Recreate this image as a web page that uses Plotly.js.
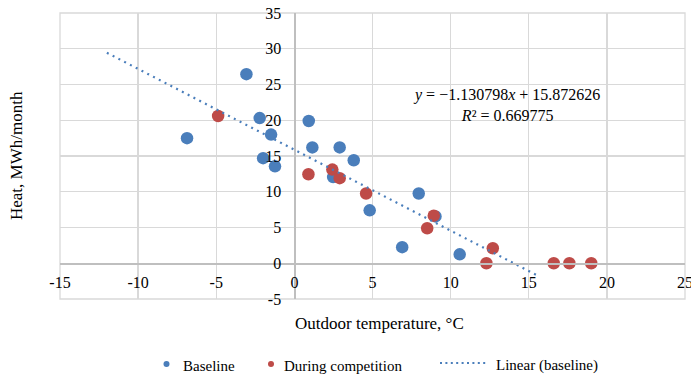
<!DOCTYPE html>
<html>
<head>
<meta charset="utf-8">
<script src="https://cdn.plot.ly/plotly-3.0.1.min.js"></script>
<style>html,body{margin:0;padding:0;background:#fff;}#chart{width:691px;height:375px;}</style>
</head>
<body>
<div id="chart"></div>
<script>
// Baseline period (blue)
const baselineTemp = [-6.87, -3.07, -2.22, -1.49, -2.0, -1.24, 0.92, 1.15, 2.9, 3.8, 2.48, 4.82, 7.96, 9.03, 6.9, 10.58];
const baselineHeat = [17.5, 26.45, 20.3, 18.0, 14.7, 13.55, 19.9, 16.2, 16.2, 14.4, 12.05, 7.4, 9.75, 6.55, 2.25, 1.25];
// During competition (red)
const compTemp = [-4.88, 0.9, 2.43, 2.9, 4.59, 8.92, 8.5, 12.7, 12.29, 16.6, 17.6, 19.0];
const compHeat = [20.6, 12.45, 13.1, 11.9, 9.75, 6.65, 4.9, 2.1, 0, 0, 0, 0];
// Linear trendline (baseline) as reported on the chart
const trendSlope = -1.130798;
const trendIntercept = 15.872626;
const trendR2 = 0.669775;
const trendX = [-12, 15.5];
const trendY = trendX.map(v => trendSlope * v + trendIntercept);
// Axis ticks
const xTicks = [-15, -10, -5, 0, 5, 10, 15, 20, 25];
const xTickText = ['-15', '-10', '-5', '0', '5', '10', '15', '20', '25'];
const yTicks = [-5, 0, 5, 10, 15, 20, 25, 30, 35];
const yTickText = ['-5', '0', '5', '10', '15', '20', '25', '30', '35'];
// Legend labels
const legendNames = ['Baseline', 'During competition', 'Linear (baseline)'];

const FONT = 'Liberation Serif';
const BLUE = '#4A7EBB';
const RED = '#BE4B48';
const GRID = '#d9d9d9';

// plot area in pixels: left 60, right 685, top 13, bottom 299
const PL = 60, PW = 625, PT = 13, PH = 286;
const px = v => (v - PL) / PW;
const py = v => (PT + PH - v) / PH;

const traces = [
  {x: baselineTemp, y: baselineHeat, type: 'scatter', mode: 'markers', name: legendNames[0],
   marker: {color: BLUE, size: 12.5}, showlegend: false},
  {x: compTemp, y: compHeat, type: 'scatter', mode: 'markers', name: legendNames[1],
   marker: {color: RED, size: 12.5}, showlegend: false},
  {x: trendX, y: trendY, type: 'scatter', mode: 'lines', name: legendNames[2],
   line: {color: BLUE, width: 2.2, dash: '2px,4.5px'}, showlegend: false}
];

const legendY = 366;
const layout = {
  width: 691, height: 375,
  margin: {l: 60, r: 6, t: 13, b: 76},
  paper_bgcolor: '#fff', plot_bgcolor: '#fff',
  font: {family: FONT, size: 16, color: '#000'},
  showlegend: false,
  xaxis: {range: [-15, 25], tickvals: xTicks, ticktext: xTickText,
          showgrid: true, gridcolor: GRID, gridwidth: 1.3, zeroline: false,
          showline: true, linecolor: '#bfbfbf', linewidth: 1.3,
          anchor: 'free', position: 0.125, ticks: '', ticklabelstandoff: 4,
          ticklabeloverflow: 'allow',
          tickfont: {family: FONT, size: 16, color: '#000'}, fixedrange: true},
  yaxis: {range: [-5, 35], tickvals: yTicks, ticktext: yTickText,
          showgrid: true, gridcolor: GRID, gridwidth: 1.3, zeroline: false,
          showline: true, linecolor: '#bfbfbf', linewidth: 1.3,
          anchor: 'free', position: 0.375, ticks: '', ticklabelstandoff: 10,
          ticklabeloverflow: 'allow',
          tickfont: {family: FONT, size: 16, color: '#000'}, fixedrange: true},
  shapes: [
    {type: 'rect', xref: 'paper', yref: 'paper', x0: 0, x1: 1, y0: 0, y1: 1,
     line: {color: GRID, width: 1.3}, layer: 'below'},
    // legend symbols
    {type: 'circle', xref: 'paper', yref: 'paper', xsizemode: 'pixel', ysizemode: 'pixel',
     xanchor: px(166.5), yanchor: py(legendY - 2), x0: -3, x1: 3, y0: -3, y1: 3,
     fillcolor: BLUE, line: {width: 0}},
    {type: 'circle', xref: 'paper', yref: 'paper', xsizemode: 'pixel', ysizemode: 'pixel',
     xanchor: px(271), yanchor: py(legendY - 2), x0: -3, x1: 3, y0: -3, y1: 3,
     fillcolor: RED, line: {width: 0}},
    {type: 'line', xref: 'paper', yref: 'paper', x0: px(440), x1: px(488), y0: py(legendY - 3), y1: py(legendY - 3),
     line: {color: BLUE, width: 2, dash: '2px,3.4px'}}
  ],
  annotations: [
    {text: 'Outdoor temperature, °C', xref: 'paper', yref: 'paper', x: px(379), y: py(323),
     xanchor: 'center', yanchor: 'middle', showarrow: false, font: {family: FONT, size: 17, color: '#000'}},
    {text: 'Heat, MWh/month', xref: 'paper', yref: 'paper', x: px(16), y: py(156), textangle: -90,
     xanchor: 'center', yanchor: 'middle', showarrow: false, font: {family: FONT, size: 17, color: '#000'}},
    {text: '<i>y</i> = −' + Math.abs(trendSlope).toFixed(6) + '<i>x</i> + ' + trendIntercept.toFixed(6) +
           '<br><i>R</i>² = ' + trendR2.toFixed(6),
     xref: 'x', yref: 'y', x: 13.55, y: 22.1, xanchor: 'center', yanchor: 'middle', showarrow: false,
     align: 'center', font: {family: FONT, size: 16, color: '#000'}},
    {text: legendNames[0], xref: 'paper', yref: 'paper', x: px(181), y: py(legendY), xanchor: 'left', yanchor: 'middle',
     showarrow: false, font: {family: FONT, size: 15, color: '#000'}},
    {text: legendNames[1], xref: 'paper', yref: 'paper', x: px(282), y: py(legendY), xanchor: 'left', yanchor: 'middle',
     showarrow: false, font: {family: FONT, size: 15, color: '#000'}},
    {text: legendNames[2], xref: 'paper', yref: 'paper', x: px(494), y: py(legendY), xanchor: 'left', yanchor: 'middle',
     showarrow: false, font: {family: FONT, size: 15, color: '#000'}}
  ]
};

Plotly.newPlot('chart', traces, layout, {displayModeBar: false, staticPlot: true});
</script>
</body>
</html>
